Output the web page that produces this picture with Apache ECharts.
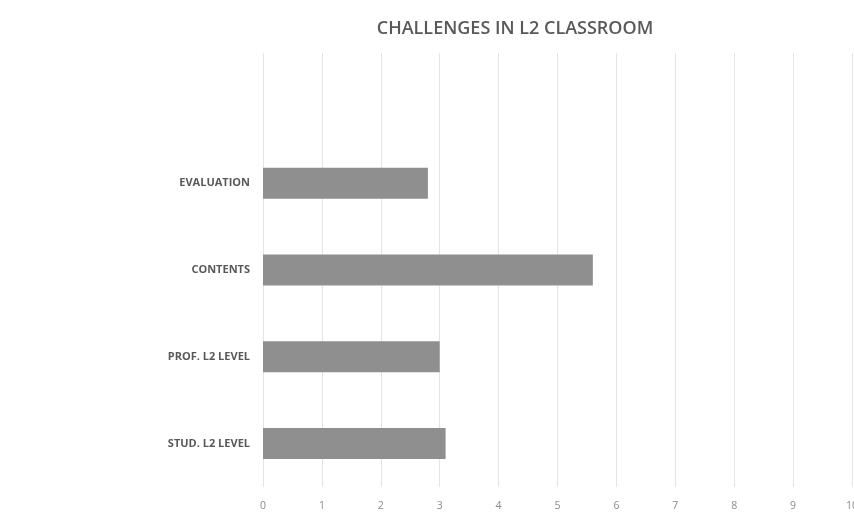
<!DOCTYPE html>
<html><head><meta charset="utf-8">
<script src="https://cdn.jsdelivr.net/npm/echarts@6/dist/echarts.min.js"></script>
<style>html,body{margin:0;padding:0;background:#fff}#c{width:854px;height:513px}</style>
</head><body><div id="c"></div>
<script>
const categories = ['STUD. L2 LEVEL', 'PROF. L2 LEVEL', 'CONTENTS', 'EVALUATION', ''];
const values = [3.1, 3.0, 5.6, 2.8, null];
const xTicks = [0, 1, 2, 3, 4, 5, 6, 7, 8, 9, 10];

const chart = echarts.init(document.getElementById('c'));
chart.setOption({
  animation: false,
  backgroundColor: '#ffffff',
  title: {
    text: 'CHALLENGES IN L2 CLASSROOM',
    left: 510, top: 15, textAlign: 'center',
    textStyle: { fontFamily: 'Open Sans', fontWeight: 600, fontSize: 18, color: '#595959', letterSpacing: 1 }
  },
  grid: { left: 263, right: 2, top: 53, bottom: 26, outerBoundsMode: 'none', containLabel: false },
  xAxis: {
    type: 'value', min: xTicks[0], max: xTicks[xTicks.length - 1], interval: 1,
    axisLine: { show: false }, axisTick: { show: false },
    splitLine: { lineStyle: { color: '#e4e4e4', width: 1 } },
    axisLabel: { color: '#8a8a8a', fontFamily: 'Open Sans', fontSize: 10.5, margin: 14, hideOverlap: false }
  },
  yAxis: {
    type: 'category', data: categories,
    axisLine: { show: false }, axisTick: { show: false },
    axisLabel: { color: '#595959', fontFamily: 'Open Sans', fontWeight: 'bold', fontSize: 11, margin: 13, letterSpacing: 1.2 }
  },
  series: [{
    type: 'bar', data: values, barWidth: 31,
    itemStyle: { color: '#8f8f8f' }
  }]
});
</script></body></html>
